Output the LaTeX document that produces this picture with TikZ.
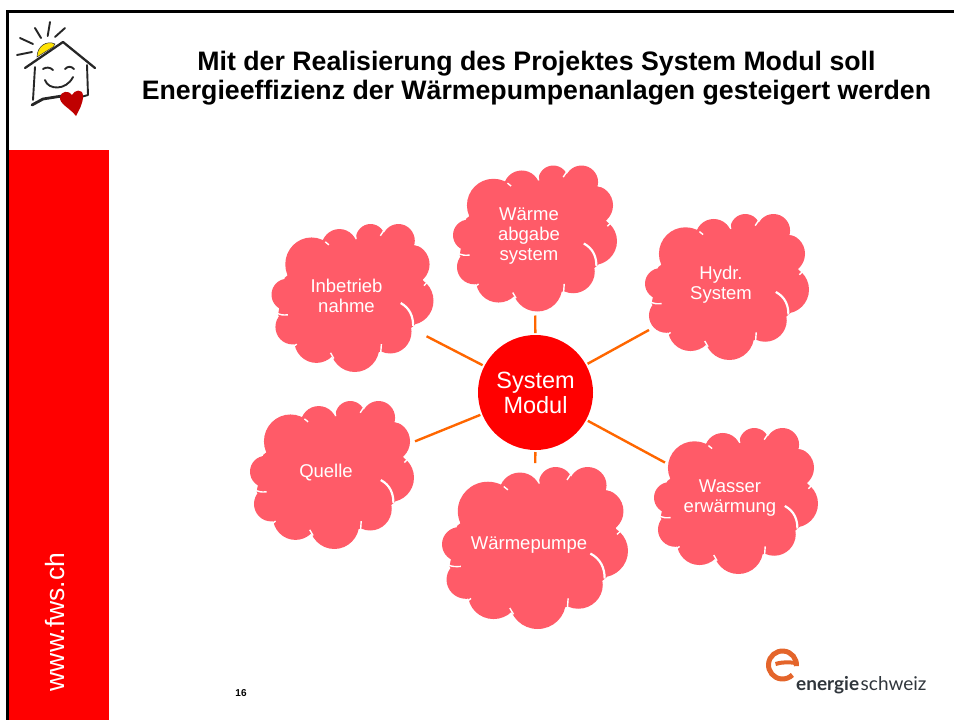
\documentclass[tikz,border=0pt]{standalone}
\usepackage{fontspec}
\setmainfont{Liberation Sans}
\newfontfamily\logofont{Lato}
\usetikzlibrary{shapes.geometric}
\definecolor{cloudpink}{HTML}{FF5B68}
\definecolor{spokeorange}{HTML}{FF6600}
\definecolor{logoorange}{HTML}{E4652B}
\definecolor{logogray}{HTML}{30363C}
\tikzset{
  cloudblob/.pic={
    \begin{scope}[shift={(-315,-265)}]
      \fill[cloudpink] (190,165) circle (80) (275,115) circle (55) (370,90) circle (45)
        (455,95) circle (50) (490,165) circle (60) (490,273) circle (72)
        (430,365) circle (65) (322,410) circle (75) (205,390) circle (68)
        (132,351) circle (52) (115,255) circle (47);
      \fill[cloudpink] (108,205) -- (238,100) -- (322,88) -- (408,78) -- (505,108) -- (533,225)
        -- (505,345) -- (402,425) -- (250,432) -- (142,402) -- (88,315) -- cycle;
      \draw[notch] (232,98) -- (243,107);
      \draw[notch] (322,70) -- (326,90);
      \draw[notch] (412,62) -- (400,80);
      \draw[notch] (504,106) -- (525,110);
      \draw[notch] (533,228) -- (553,208);
      \draw[notch, line width=2.2pt] (462,280) .. controls (490,295) and (500,320) .. (500,348);
      \draw[notch] (403,402) -- (401,430);
      \draw[notch] (248,428) -- (258,445);
      \draw[notch] (145,402) -- (132,412);
      \draw[notch] (85,311) .. controls (95,316) and (105,316) .. (118,315);
      \draw[notch] (105,205) -- (100,192);
    \end{scope}
  }
}
\begin{document}
\begin{tikzpicture}[
  x=1pt, y=-1pt,
  notch/.style={white, line width=1.4pt},
  spoke/.style={spokeorange, line width=2.4pt},
  pen/.style={black!85, line width=1.9pt, line cap=round, line join=round},
  cloudhub/.style={ellipse, inner sep=0pt, outer sep=0pt},
  cloudtext/.style={white, align=center, inner sep=0pt, font=\fontsize{18.5}{20}\selectfont},
  modulbox/.style={circle, fill=red, text=white, align=center, minimum size=115pt, inner sep=0pt, outer sep=2pt, font=\fontsize{23.5}{25}\selectfont}
]
\useasboundingbox (0,0) rectangle (954,720);

% Frame and side bar
\fill[red] (9,150) rectangle (109,720);
\fill[black] (6,9.5) rectangle (954,12.5);
\fill[black] (6,9.5) rectangle (9,720);
\node[rotate=90, white, font=\fontsize{26.5}{28}\selectfont, inner sep=0pt] (sitename) at (55,622) {www.fws.ch};

% Title
\node[align=center, inner sep=0pt, font=\bfseries\fontsize{26.7}{29.5}\selectfont] (title) at (536.5,78)
  {Mit der Realisierung des Projektes System Modul soll\\
   Energieeffizienz der Wärmepumpenanlagen gesteigert werden};

% Clouds
\foreach \cname/\cx/\cy/\cw/\ch/\ca/\ctext in {
    inbetrieb/352.5/298/81/74/85/{Inbetrieb\\nahme},
    waerme/535/238.5/82/73/84/{Wärme\\abgabe\\system},
    hydr/727/287/82/73/94/{Hydr.\\System},
    quelle/332/475/82/74/92/{Quelle},
    pumpe/535/548/93/81/95/{Wärmepumpe},
    wasser/736/501/82/73/82/{Wasser\\erwärmung}} {
  \pic[xscale=\cw/247, yscale=\ch/220] at (\cx,\cy) {cloudblob};
  \node[cloudhub, minimum width={2*\ca}, minimum height={2*(\ch+4)}] (\cname) at (\cx,\cy) {};
  \node[cloudtext] (\cname-text) at (\cx-6,\cy-2.5) {\ctext};
}

% Centre and spokes
\node[modulbox] (modul) at (535.5,392.5) {System\\Modul};
\foreach \cname in {inbetrieb, waerme, hydr, quelle, pumpe, wasser}
  \draw[spoke] (modul) -- (\cname);

% Page number
\node[inner sep=0pt, font=\bfseries\fontsize{10}{12}\selectfont] (pagenum) at (241,693) {16};

% House logo
\fill[yellow!85!orange, draw=black!80, line width=0.5pt] (37,57) .. controls (37,46) and (47,40) .. (55,44) -- (53,47) -- cycle;
\draw[pen] (35,28) -- (41,38);
\draw[pen] (50,22) -- (47.7,36);
\draw[pen] (65,28) -- (55,37);
\draw[pen] (20,38) -- (33,44);
\draw[pen] (17,55) -- (32,52);
\draw[pen, line width=2.3pt] (25,68) -- (63,42) -- (95,68);
\draw[pen] (35,67) -- (33,100);
\draw[pen] (87,65) -- (88,95) -- (81,97);
\draw[pen, line width=2.8pt] (32,105) -- (43,99) -- (62,96);
\draw[pen] (43,69) .. controls (46,67) and (50,67) .. (53,70);
\draw[pen] (65,69) .. controls (68,66) and (71,66) .. (74,69);
\draw[pen] (45,80) .. controls (48,90) and (66,91) .. (73,77);
\fill[red!75!black] (76,116) .. controls (70,108) and (59,104) .. (60,97)
  .. controls (61,91) and (69,90) .. (72,95) .. controls (74,90) and (83,88) .. (83,96)
  .. controls (83,104) and (79,110) .. (76,116) -- cycle;

% Energie logo
\draw[logoorange, line width=5pt] (782.5,665) ++(5:14) arc (5:-315:14);
\fill[logoorange] (775,662) .. controls (781,660) and (789,660) .. (796,661) -- (796,665)
  .. controls (789,664) and (781,664) .. (776,666) -- cycle;
\node[anchor=base west, inner sep=0pt, text=logogray, font=\logofont\fontsize{19}{20}\selectfont] (logotext) at (796,690)
  {\textbf{energie}\kern1.5pt schweiz};
\end{tikzpicture}
\end{document}
